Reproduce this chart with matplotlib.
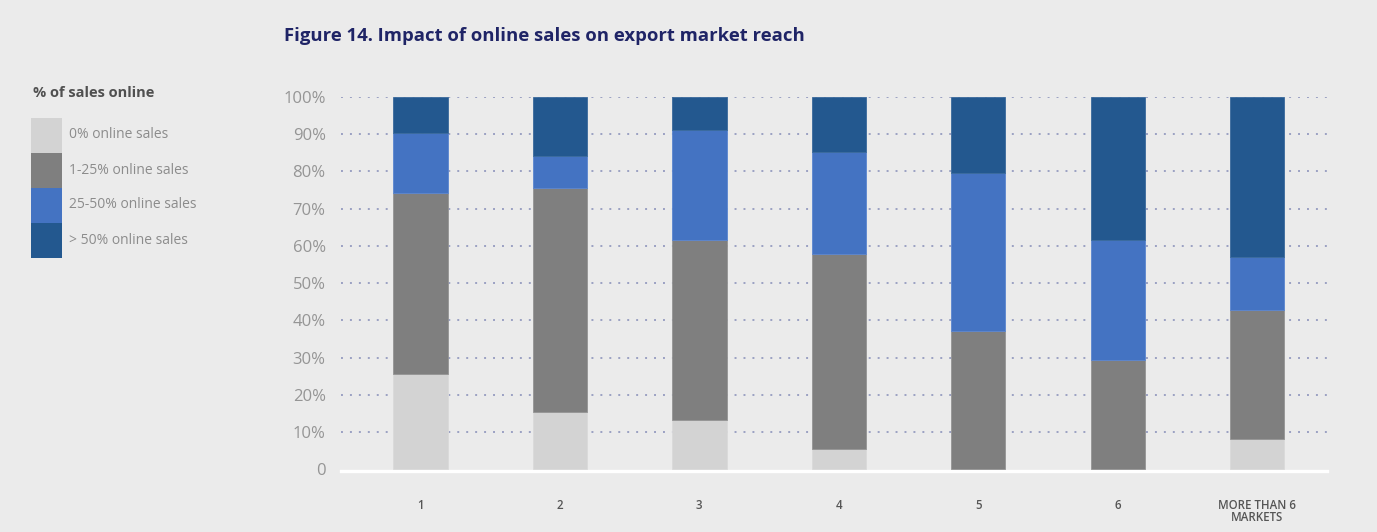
import numpy as np
import matplotlib.pyplot as plt
from matplotlib.patches import Rectangle

plt.rcParams['font.family'] = ['Open Sans', 'DejaVu Sans']

# share of exporters (%) by number of export markets reached
markets = ['1', '2', '3', '4', '5', '6', 'MORE THAN 6\nMARKETS']
share_0 = [25.6, 15.5, 13.2, 5.4, 0.0, 0.0, 8.1]
share_1_25 = [48.6, 60.0, 48.4, 52.5, 37.1, 29.4, 34.6]
share_25_50 = [16.0, 8.7, 29.5, 27.3, 42.5, 32.1, 14.3]
share_50_plus = [9.8, 15.8, 8.9, 14.8, 20.4, 38.5, 43.0]

series = [
    ('0% online sales', share_0, '#d3d3d3', '#dadada'),
    ('1-25% online sales', share_1_25, '#7f7f7f', '#949494'),
    ('25-50% online sales', share_25_50, '#4473c2', '#5b86cf'),
    ('> 50% online sales', share_50_plus, '#23588f', '#3a6a9c'),
]

bg = '#ebebeb'
fig = plt.figure(figsize=(13.77, 5.32), dpi=100, facecolor=bg)
ax = fig.add_axes([0.2476, 0.1175, 0.716, 0.7007], facecolor=bg)

x = np.arange(len(markets))
bottom = np.zeros(len(markets))
for label, vals, color, edge in series:
    lw = [0.6 if v > 0 else 0 for v in vals]
    ax.bar(x, vals, width=0.39, bottom=bottom, color=color, edgecolor=edge,
           linewidth=lw, zorder=3, clip_on=False)
    bottom += np.array(vals)

ax.set_xlim(-0.57, 6.5)
ax.set_ylim(0, 100)

# dotted horizontal gridlines, white baseline sitting under the bars
for yv in range(10, 101, 10):
    ax.axhline(yv, color='#9aa0c2', linestyle=(0, (1, 3.6)), linewidth=1.4, zorder=1)
ax.axhline(-0.45, color='white', linewidth=2.4, zorder=2, clip_on=False)

for s in ax.spines.values():
    s.set_visible(False)

ax.set_yticks(range(0, 101, 10))
ax.set_yticklabels(['0'] + [f'{v}%' for v in range(10, 101, 10)],
                   fontsize=12, color='#959595')
ax.tick_params(axis='y', length=0, pad=11)
ax.set_xticks(x)
ax.set_xticklabels(markets, fontsize=8.3, color='#555555', fontweight='semibold',
                   linespacing=0.95)
ax.tick_params(axis='x', length=0, pad=21)

fig.text(0.2065, 0.932, 'Figure 14. Impact of online sales on export market reach',
         fontsize=13.3, fontweight='bold', color='#1f2466', va='center')

# legend
fig.text(0.024, 0.825, '% of sales online', fontsize=10.5, fontweight='bold',
         color='#505050', va='center')
H = 1377.0
V = 532.0
top = 118
for label, vals, color, edge in series:
    fig.add_artist(Rectangle((31 / H, 1 - (top + 35) / V), 31 / H, 35 / V,
                             transform=fig.transFigure, facecolor=color,
                             edgecolor='none'))
    fig.text(69 / H, 1 - (top + 17) / V, label, fontsize=10, color='#8c8c8c',
             va='center')
    top += 35

fig.savefig('out.png', dpi=100, facecolor=bg)
